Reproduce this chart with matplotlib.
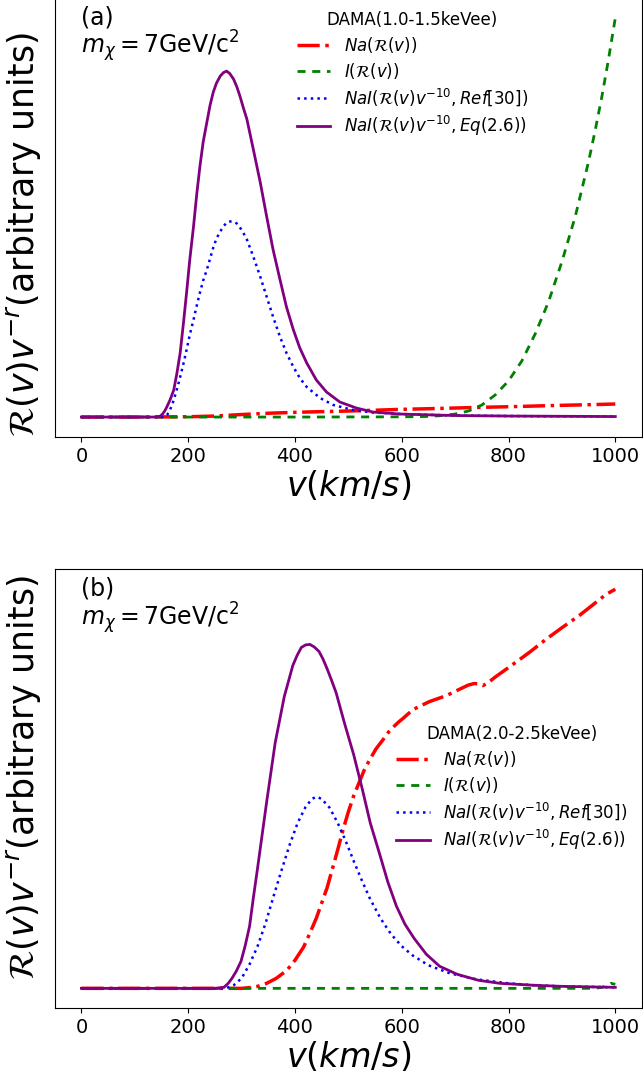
import matplotlib
matplotlib.use("Agg")
import matplotlib.pyplot as plt

# ---------------- data (arbitrary units) ----------------
# panel (a): DAMA 1.0-1.5 keVee
v_a_na = [0, 100, 200, 250, 300, 350, 400, 450, 500, 550, 600, 650, 700, 750, 800, 850, 900, 950, 1000]
na_a = [0, 0, 0.3, 1, 2.5, 3.8, 4.7, 5.4, 6, 6.8, 7.7, 8.3, 9, 9.7, 10.3, 11, 11.7, 12.3, 13]

v_a_i = [0, 200, 400, 600, 650, 675, 700, 725, 750, 775, 800, 825, 850, 875, 900, 925, 950, 962,
         975, 987, 1000]
i_a = [0, 0, 0, 0.2, 0.6, 1.5, 3, 6, 12, 22, 36, 56, 83, 115, 155, 200, 255, 285,
       320, 356, 398]

v_a_ref = [0, 150, 157, 161, 165, 169, 173, 179, 185, 191, 197, 203, 210, 216, 222, 228, 235, 241,
           247, 253, 260, 266, 272, 278, 285, 291, 297, 303, 310, 322, 335,
           347, 359, 372, 384, 397, 409, 422, 447, 472, 509, 546, 600, 700, 800, 1000]
ref_a = [0, 0, 0.5, 2.5, 6, 11, 17, 28, 40, 53, 67, 82, 97, 111, 124, 136, 147, 158,
         169, 178, 185, 190, 194, 195, 195, 193, 189, 184, 177, 160, 140,
         120, 100, 80, 64, 50, 39, 30, 19, 12, 7, 4.5, 3, 1.5, 1, 0.5]

v_a_eq = [0, 140, 148, 152, 156, 160, 166, 173, 179, 185, 191, 197, 203, 210, 216, 222, 228, 235,
          241, 247, 253, 260, 266, 272, 278, 285, 291, 297, 303, 310, 322, 335,
          347, 359, 372, 384, 397, 409, 422, 440, 459, 484, 515, 546, 596, 700, 800, 1000]
eq_a = [0, 0, 1, 3, 6, 10, 17, 27, 44, 64, 93, 124, 157, 190, 222, 250, 274, 294,
        311, 324, 333, 340, 343.5, 345, 342.5, 337, 329.5, 320, 309, 297, 267, 234,
        200, 167, 137, 110, 87, 69, 54, 37, 25, 15, 9, 5, 3, 1.5, 1, 0.5]

# panel (b): DAMA 2.0-2.5 keVee
v_b_na = [0, 200, 300, 320, 330, 347, 365, 385, 400, 416, 428, 440, 450, 460, 470, 480, 490, 500,
          510, 520, 530, 540, 552, 565, 576, 587, 595, 602, 621, 652, 684, 715, 725, 736, 745,
          752, 760, 774, 808, 839, 870, 901, 933, 964, 983, 1000]
na_b = [0, 0, 0, 1, 2, 5, 10, 18, 28, 41, 55, 70, 85, 100, 119, 138, 158, 176,
        192, 205, 218, 228, 239, 248, 256, 262, 266, 269, 278, 286, 292, 300, 302.5, 304, 303.5,
        302, 304, 310, 323, 335, 348, 360, 372, 385, 393, 398]

v_b_i = [0, 960, 975, 985, 992, 1000]
i_b = [0, 0, 1, 3, 5, 4]

v_b_ref = [0, 270, 285, 300, 315, 330, 345, 360, 375, 390, 405, 420, 432, 440, 450, 465, 480, 495,
           510, 525, 540, 560, 580, 600, 620, 650, 690, 740, 800, 850, 900, 1000]
ref_b = [0, 0, 3, 10, 24, 42, 65, 92, 118, 143, 165, 181, 189, 191, 189, 180, 165, 147,
         127, 108, 90, 70, 54, 42, 33, 23, 15, 9, 5, 3, 2, 1]

v_b_eq = [0, 250, 267, 275, 282, 290, 299, 307, 315, 322, 330, 347, 363, 380, 396, 404, 412, 420,
          428, 436, 445, 452, 460, 468, 477, 493, 510,
          526, 541, 558, 574, 590, 606, 623, 646, 671, 704, 744, 784, 850, 900, 1000]
eq_b = [0, 0, 1, 5, 10, 17, 27, 43, 62, 90, 120, 186, 245, 291, 322, 332, 340, 342.5,
        343, 340.5, 336, 329, 319, 308, 295, 264, 233,
        199, 165, 135, 106, 82, 64, 50, 34, 22, 14, 8, 5, 3, 2, 1]

xticks = [0, 200, 400, 600, 800, 1000]
labels = [r'$Na(\mathcal{R}(v))$', r'$I(\mathcal{R}(v))$',
          r'$NaI(\mathcal{R}(v)v^{-10}, Ref[30])$', r'$NaI(\mathcal{R}(v)v^{-10}, Eq(2.6))$']
titles = ['DAMA(1.0-1.5keVee)', 'DAMA(2.0-2.5keVee)']
panel_tags = ['(a)', '(b)']

# ---------------- figure ----------------
fig = plt.figure(figsize=(6.43, 10.78), dpi=100)
L, W, H = 54.7 / 643, 587.3 / 643, 439 / 1078
ax_a = fig.add_axes([L, 1 - 437 / 1078, W, H])
ax_b = fig.add_axes([L, 1 - 1008.3 / 1078, W, H])

series = [
    (ax_a, (v_a_na, na_a), (v_a_i, i_a), (v_a_ref, ref_a), (v_a_eq, eq_a)),
    (ax_b, (v_b_na, na_b), (v_b_i, i_b), (v_b_ref, ref_b), (v_b_eq, eq_b)),
]

for k, (ax, na, ii, ref, eq) in enumerate(series):
    ax.plot(*na, color='red', lw=2.5, linestyle='-.', label=labels[0])
    ax.plot(*ii, color='green', lw=2, linestyle=(0, (2.9, 2.4)), label=labels[1])
    ax.plot(*ref, color='blue', lw=1.8, linestyle=':', label=labels[2])
    ax.plot(*eq, color='purple', lw=2, linestyle='-', label=labels[3])
    ax.set_xticks(xticks)
    ax.set_yticks([])
    ax.tick_params(axis='x', labelsize=14)
    ax.set_xlabel(r'$v(km/s)$', fontsize=24, labelpad=2)
    ax.set_ylabel(r'$\mathcal{R}(v)v^{-r}$(arbitrary units)', fontsize=25)
    ax.text(0.045, 0.94, panel_tags[k], transform=ax.transAxes, fontsize=17, va='baseline')
    ax.text(0.045, 0.873, r'$m_\chi = 7$GeV/c$^2$', transform=ax.transAxes, fontsize=17, va='baseline')

ax_a.yaxis.set_label_coords(-0.02, 0.46)
ax_b.yaxis.set_label_coords(-0.02, 0.525)

ax_a.legend(title=titles[0], loc='upper left', bbox_to_anchor=(0.401, 0.985), borderaxespad=0,
            frameon=False, fontsize=12, title_fontsize=12, labelspacing=0.35)
ax_b.legend(title=titles[1], loc='center right', frameon=False, fontsize=12, title_fontsize=12,
            labelspacing=0.35)

fig.savefig('out.png', dpi=100)
